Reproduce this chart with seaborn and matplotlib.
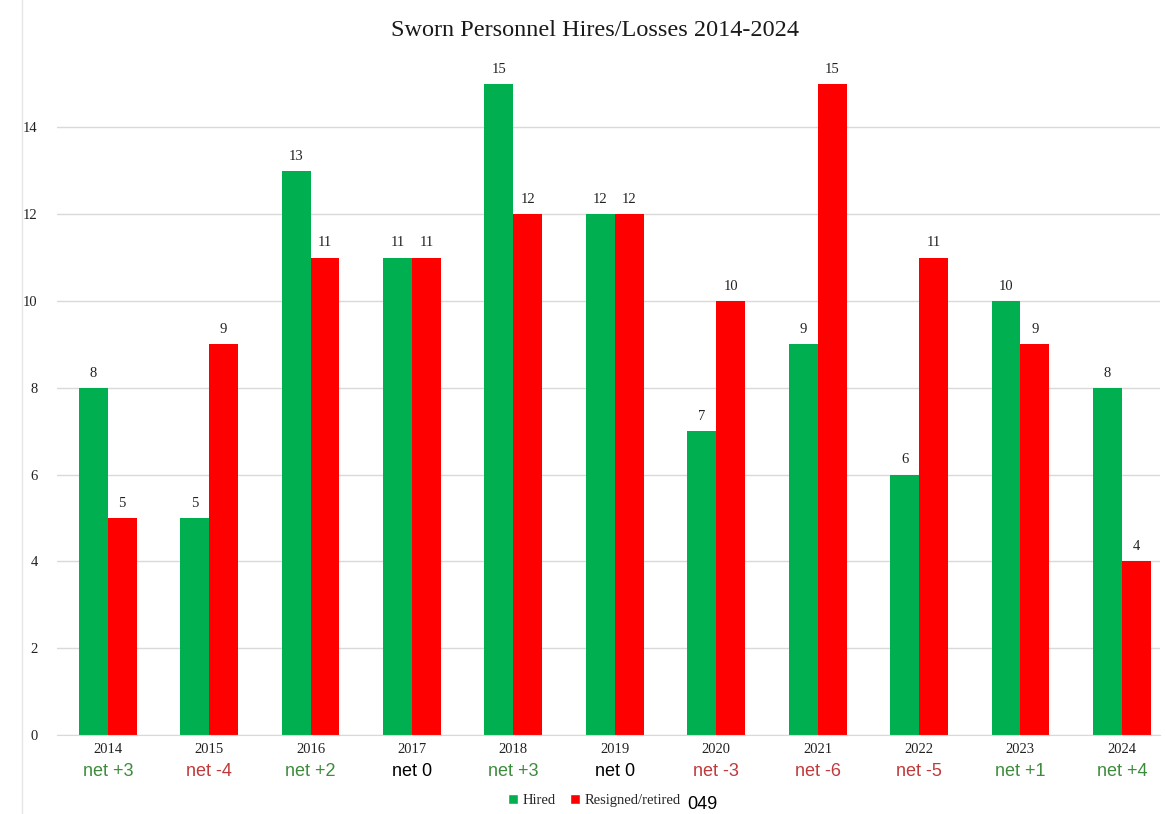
import matplotlib
matplotlib.use("Agg")
import matplotlib.pyplot as plt
import seaborn as sns
import pandas as pd
from matplotlib.patches import Patch

years = ["2014", "2015", "2016", "2017", "2018", "2019", "2020", "2021", "2022", "2023", "2024"]
hired = [8, 5, 13, 11, 15, 12, 7, 9, 6, 10, 8]
lost = [5, 9, 11, 11, 12, 12, 10, 15, 11, 9, 4]
series_names = ["Hired", "Resigned/retired"]
net_labels = ["net +3", "net -4", "net +2", "net 0", "net +3", "net 0",
              "net -3", "net -6", "net -5", "net +1", "net +4"]

GREEN = "#00B050"
RED = "#FF0000"
NET_GREEN = "#3d8c3d"
NET_RED = "#c0393b"

df = pd.DataFrame({
    "year": years * 2,
    "value": hired + lost,
    "series": [series_names[0]] * len(years) + [series_names[1]] * len(years),
})

sns.set_style("white")
fig = plt.figure(figsize=(11.65, 8.14), dpi=100)
ax = fig.add_axes([0.049, 0.097, 0.947, 0.853])

sns.barplot(data=df, x="year", y="value", hue="series", order=years,
            hue_order=series_names, palette=[GREEN, RED], width=0.57,
            gap=0, saturation=1, ax=ax, legend=False, errorbar=None,
            linewidth=0, edgecolor="none")

ax.set_xlim(-0.5, 10.38)
ax.set_ylim(0, 16)
ax.set_yticks([0, 2, 4, 6, 8, 10, 12, 14])
ax.yaxis.grid(True, color="#d9d9d9", linewidth=1)
ax.set_axisbelow(True)
for s in ["top", "right", "left"]:
    ax.spines[s].set_visible(False)
ax.spines["bottom"].set_color("#d9d9d9")
ax.set_xlabel("")
ax.set_ylabel("")
ax.tick_params(axis="both", length=0)
ax.tick_params(axis="y", pad=14)
for lbl in ax.get_yticklabels():
    lbl.set_fontfamily("Liberation Serif")
    lbl.set_fontsize(10.5)
    lbl.set_color("#222222")
ax.set_xticks(range(len(years)))
ax.set_xticklabels(years, fontfamily="Liberation Serif", fontsize=10.5, color="#222222")
ax.tick_params(axis="x", pad=6)

# value labels above each bar
for container in ax.containers:
    ax.bar_label(container, padding=6, fontfamily="Liberation Serif",
                 fontsize=10.5, color="#222222")

# net change under each year
for i, txt in enumerate(net_labels):
    if "+" in txt:
        c = NET_GREEN
    elif "-" in txt:
        c = NET_RED
    else:
        c = "black"
    ax.text(i, -0.053, txt, transform=ax.get_xaxis_transform(), ha="center",
            va="center", fontsize=13, color=c, fontfamily="Liberation Sans")

fig.text(0.511, 0.963, "Sworn Personnel Hires/Losses 2014-2024", ha="center",
         va="center", fontsize=17.5, fontfamily="Liberation Serif", color="#1a1a1a")

handles = [Patch(facecolor=GREEN), Patch(facecolor=RED)]
fig.legend(handles, series_names, loc="center", bbox_to_anchor=(0.51, 0.017),
           ncol=2, frameon=False, handlelength=0.7, handleheight=0.7,
           handletextpad=0.3, columnspacing=1.0,
           prop={"family": "Liberation Serif", "size": 10.5})

fig.text(0.603, 0.012, "049", ha="center", va="center", fontsize=13,
         fontfamily="Liberation Sans", color="black")

fig.add_artist(plt.Line2D([0.019, 0.019], [0.0, 1.0], color="#e6e6e6",
                          linewidth=1, transform=fig.transFigure))

fig.savefig("out.png", dpi=100, facecolor="white")
